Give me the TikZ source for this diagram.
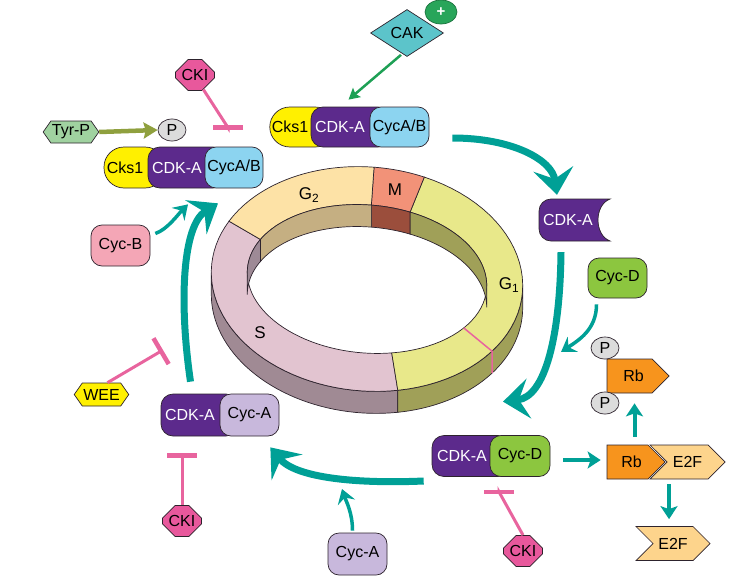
\documentclass[tikz,border=0pt]{standalone}
\usepackage{fontspec}
\setmainfont{Liberation Sans}
\usetikzlibrary{arrows.meta,shapes.geometric,shapes.misc,shapes.symbols}

\definecolor{flow}{RGB}{0,160,150}
\definecolor{inhib}{RGB}{232,100,158}
\definecolor{lineC}{RGB}{45,35,45}
\definecolor{cdkcol}{RGB}{92,42,140}
\definecolor{ckscol}{RGB}{255,240,0}
\definecolor{cycabcol}{RGB}{140,212,240}
\definecolor{cycacol}{RGB}{200,184,220}
\definecolor{cycdcol}{RGB}{140,198,63}
\definecolor{cycbcol}{RGB}{244,166,182}
\definecolor{rbcol}{RGB}{247,148,29}
\definecolor{e2fcol}{RGB}{253,212,140}
\definecolor{pcol}{RGB}{220,220,220}
\definecolor{ckicol}{RGB}{232,88,156}
\definecolor{weecol}{RGB}{255,240,0}
\definecolor{tyrcol}{RGB}{160,210,160}
\definecolor{cakcol}{RGB}{92,196,202}
\definecolor{pluscol}{RGB}{40,165,90}
\definecolor{cakline}{RGB}{30,160,85}
\definecolor{tyrline}{RGB}{143,160,62}
% ring colours
\definecolor{gbTop}{RGB}{253,226,166}
\definecolor{gbWall}{RGB}{197,175,130}
\definecolor{mTop}{RGB}{242,146,120}
\definecolor{mWall}{RGB}{155,78,60}
\definecolor{gaTop}{RGB}{232,232,138}
\definecolor{gaWall}{RGB}{160,160,88}
\definecolor{sTop}{RGB}{226,196,208}
\definecolor{sSide}{RGB}{160,138,148}
\definecolor{sWall}{RGB}{158,138,150}

% points on the tilted ring: angle, x radius, y radius
\pgfmathdeclarefunction{ringx}{3}{\pgfmathparse{367+#2*cos(#1)*cos(5)+#3*sin(#1)*sin(5)}}
\pgfmathdeclarefunction{ringy}{3}{\pgfmathparse{279+#2*cos(#1)*sin(5)-#3*sin(#1)*cos(5)}}

\begin{document}
\begin{tikzpicture}[x=1pt, y=-1pt,
	txt/.style={font=\fontsize{16}{18}\selectfont},
	part/.style={txt, draw=lineC, line width=0.7pt, minimum height=41pt, inner sep=2pt},
	cks/.style={part, fill=ckscol, rounded corners=20pt},
	cdk/.style={part, fill=cdkcol, text=white, rounded corners=12pt},
	cyc/.style={part, rounded corners=11pt},
	pbub/.style={txt, ellipse, draw=lineC, line width=0.7pt, fill=pcol, minimum width=28pt, minimum height=22pt, inner sep=0pt},
	cki/.style={txt, chamfered rectangle, chamfered rectangle xsep=7pt, chamfered rectangle ysep=7pt, draw=lineC, line width=0.7pt, fill=ckicol, minimum width=39pt, minimum height=31pt, inner sep=0pt},
	hexa/.style={txt, signal, signal to=east and west, signal pointer angle=110, draw=lineC, line width=0.7pt, inner sep=1pt},
	sig/.style={txt, signal, signal pointer angle=90, draw=lineC, line width=0.7pt, minimum height=34pt, inner sep=2pt},
	ring/.style={draw=lineC, line width=0.7pt},
	ringlbl/.style={font=\fontsize{17}{19}\selectfont},
	bigflow/.style={draw=flow, line width=7pt, -{Stealth[length=26pt,width=40pt,inset=10pt]}},
	midflow/.style={draw=flow, line width=3.5pt, -{Stealth[length=14pt,width=18pt,inset=5pt]}},
	rbflow/.style={draw=flow, line width=4pt, -{Stealth[length=13pt,width=17pt,inset=3pt]}},
	inhibit/.style={draw=inhib, line width=3pt, -{Bar[width=30pt,line width=4.5pt]}}]
	\useasboundingbox (0,0) rectangle (735,586);

	% Ring: outer side
	\foreach \a/\b/\c in {183.6/285/sSide, 285/363.6/gaWall}
		\filldraw[ring, fill=\c] plot[domain=\a:\b, samples=40] ({ringx(\x,156,112)},{ringy(\x,156,112)+22})
			-- plot[domain=\b:\a, samples=40] ({ringx(\x,156,112)},{ringy(\x,156,112)}) -- cycle;

	% Ring: top face
	\foreach \a/\b/\c in {156/285/sTop, 285/432/gaTop, 72/91/mTop, 91/156/gbTop}
		\filldraw[ring, fill=\c] plot[domain=\a:\b, samples=40] ({ringx(\x,156,112)},{ringy(\x,156,112)})
			-- plot[domain=\b:\a, samples=40] ({ringx(\x,120,74)},{ringy(\x,120,74)}) -- cycle;

	% Ring: inner wall
	\foreach \a/\b/\c in {3.1/72/gaWall, 72/91/mWall, 91/156/gbWall, 156/183.1/sWall}
		\filldraw[ring, fill=\c] plot[domain=\a:\b, samples=40] ({ringx(\x,120,74)},{ringy(\x,120,74)})
			-- plot[domain=\b:\a, samples=40] ({ringx(\x,120,74)},{ringy(\x,120,74)+22}) -- cycle;

	% Restriction point
	\draw[inhib, line width=1.5pt] ({ringx(-33,120,74)},{ringy(-33,120,74)}) -- ({ringx(-33,156,112)},{ringy(-33,156,112)}) -- ++(0,22);

	\node[ringlbl] (lblG2) at (309,195) {G\textsubscript{2}};
	\node[ringlbl] (lblM) at (395,190) {M};
	\node[ringlbl] (lblG1) at (509,285) {G\textsubscript{1}};
	\node[ringlbl] (lblS) at (260,333) {S};

	% CAK
	\node[txt, diamond, aspect=1.55, draw=lineC, line width=0.7pt, fill=cakcol, minimum width=73pt, minimum height=47pt, inner sep=0pt] (cak) at (407,33) {CAK};
	\node[ellipse, draw=pluscol!70!black, line width=0.7pt, fill=pluscol, text=white, minimum width=32pt, minimum height=24pt, inner sep=0pt, font=\bfseries\fontsize{15}{15}\selectfont] (plus) at (441,12) {+};

	% Cks1 / CDK-A / CycA-B (top)
	\node[cks, minimum width=65pt, minimum height=40pt] (cksT) at (302.5,127) {Cks1\hspace*{25pt}};
	\node[cdk, minimum width=79pt, minimum height=40pt] (cdkT) at (350.5,127) {CDK-A\hspace*{21pt}};
	\node[cyc, fill=cycabcol, minimum width=59pt, minimum height=40pt] (cycabT) at (399.5,127) {CycA/B};

	% Cks1 / CDK-A / CycA-B (left)
	\node[cks, minimum width=61pt] (cksL) at (134.5,167.5) {Cks1\hspace*{19pt}};
	\node[cdk, minimum width=77pt] (cdkL) at (186.5,167.5) {CDK-A\hspace*{19pt}};
	\node[cyc, fill=cycabcol, minimum width=58pt] (cycabL) at (234,167.5) {CycA/B};

	% CDK-A / Cyc-A
	\node[cdk, minimum width=77pt, minimum height=42pt] (cdkA) at (199.5,415) {CDK-A\hspace*{19pt}};
	\node[cyc, fill=cycacol, minimum width=59pt, minimum height=42pt] (cycAp) at (249.5,415) {Cyc-A};

	% CDK-A / Cyc-D
	\node[cdk, minimum width=78pt] (cdkD) at (471,456) {CDK-A\hspace*{18pt}};
	\node[cyc, fill=cycdcol, minimum width=60pt] (cycDp) at (520,456) {Cyc-D};

	% CDK-A alone
	\filldraw[fill=cdkcol, draw=lineC, line width=0.7pt] [rounded corners=12pt] (575,199) -- (539,199) -- (539,241) -- (575,241)
		[sharp corners] -- (610,241) .. controls (594,235) and (594,205) .. (610,199) -- cycle;
	\node[txt, text=white, minimum width=71pt, minimum height=42pt, inner sep=0pt] (cdkR) at (568,220) {CDK-A};

	% Cyclins
	\node[cyc, fill=cycbcol, minimum width=59pt] (cycB) at (120.5,245.5) {Cyc-B};
	\node[cyc, fill=cycdcol, minimum width=59pt, minimum height=40pt] (cycD) at (617.5,278) {Cyc-D};
	\node[cyc, fill=cycacol, minimum width=59pt, minimum height=42pt] (cycA) at (357.5,554) {Cyc-A};

	% Tyr-P, P, WEE, CKI
	\node[hexa, fill=tyrcol, minimum width=54pt, minimum height=22pt] (tyrp) at (71,132) {Tyr-P};
	\node[pbub] (pL) at (172,130) {P};
	\node[hexa, fill=weecol, minimum width=53pt, minimum height=23pt] (wee) at (101.5,394.5) {WEE};
	\node[cki] (ckiL) at (195,75) {CKI};
	\node[cki] (ckiA) at (182,521) {CKI};
	\node[cki] (ckiD) at (523,551) {CKI};

	% Rb and E2F
	\node[sig, fill=e2fcol, signal from=west, signal to=east, minimum width=75pt] (e2fE) at (687.5,462) {E2F};
	\node[sig, fill=rbcol, signal to=east, minimum width=58pt] (rbE) at (627.5,462) {\hspace*{8pt}Rb};
	\node[sig, fill=rbcol, signal to=east, minimum width=62pt] (rbP) at (629.5,376) {\hspace*{8pt}Rb};
	\node[pbub] (pR1) at (605,348) {P};
	\node[pbub] (pR2) at (605,403) {P};
	\node[sig, fill=e2fcol, signal from=west, signal to=east, minimum width=74pt] (e2f) at (673,543.5) {E2F};

	% Free ends on the arrows
	\coordinate (weeT) at (163,350);
	\coordinate (cycAT) at (342,489);
	\coordinate (cycDT) at (561,352);

	% Activation
	\draw[draw=cakline, line width=2.5pt, -{Stealth[length=11pt,width=12pt,inset=2pt]}] ([shift={(-6,-2)}]cak.south) -- ([shift={(-2,-7)}]cdkT.north);
	\draw[draw=tyrline, line width=4.5pt, -{Stealth[length=14pt,width=16pt,inset=2pt]}] (tyrp.east) -- (pL.west);

	% Cycle of complexes
	\draw[bigflow] ([shift={(23,11)}]cycabT.east) .. controls +(60,0) and +(-5,-35) .. ([shift={(-11,-4)}]cdkR.north);
	\draw[bigflow] ([shift={(-7,11)}]cdkR.south) .. controls +(-1,85) and +(42,-5) .. ([shift={(-17,-33.5)}]cycDp.north);
	\draw[bigflow] ([shift={(-8,25)}]cdkD.west) .. controls +(-70,3) and +(25,30) .. ([shift={(-9,11)}]cycAp.south east);
	\draw[bigflow] ([shift={(-9,-12)}]cdkA.north) .. controls +(-12,-82) and +(-35,22) .. ([shift={(-16,15)}]cycabL.south);

	% Cyclins joining
	\draw[midflow] ([shift={(5,-12)}]cycB.east) .. controls +(12,-4) and +(-10,10) .. ([shift={(1.5,16)}]cdkL.south);
	\draw[midflow] ([shift={(-5,-2)}]cycA.north) .. controls +(0,-18) and +(4,12) .. (cycAT);
	\draw[midflow] ([shift={(-21,6)}]cycD.south) .. controls +(0,25) and +(18,-12) .. (cycDT);

	% Rb
	\draw[rbflow] ([shift={(13,4)}]cycDp.east) -- ([shift={(-6,-2)}]rbE.west);
	\draw[rbflow] ([shift={(7,-8)}]rbE.north) -- ([shift={(5,10)}]rbP.south);
	\draw[rbflow] ([shift={(-18.5,5)}]e2fE.south) -- ([shift={(-4,-7)}]e2f.north);

	% Inhibition
	\draw[inhibit] (ckiL.-60) -- ([shift={(-6,-19)}]cycabL.north) -- ([shift={(-6,-17)}]cycabL.north);
	\draw[inhibit] ([shift={(6,0)}]wee.north) -- (weeT);
	\draw[inhibit] (ckiA.north) -- ([shift={(-17.5,19)}]cdkA.south) -- ([shift={(-17.5,17)}]cdkA.south);
	\draw[inhibit] (ckiD.north) -- ([shift={(-21,15)}]cycDp.south) -- ([shift={(-21,13)}]cycDp.south);
\end{tikzpicture}
\end{document}
